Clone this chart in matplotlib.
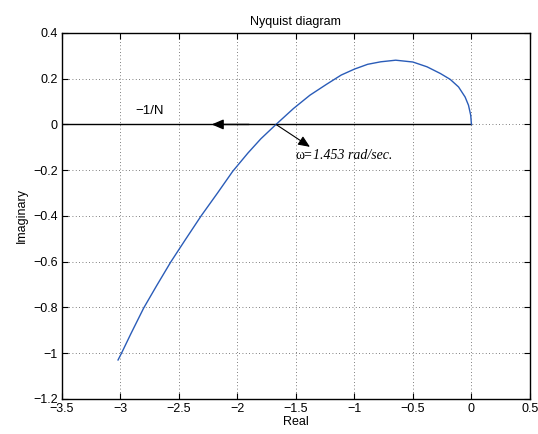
import matplotlib
matplotlib.use('Agg')
import matplotlib.pyplot as plt

plt.rcParams['font.family'] = ['Liberation Sans', 'DejaVu Sans']

# Nyquist curve G(jw)
re_g = [-3.02, -2.99, -2.91, -2.80, -2.69, -2.57, -2.45, -2.31, -2.17, -2.04,
        -1.91, -1.80, -1.67, -1.52, -1.38, -1.24, -1.113, -1.00, -0.887, -0.775,
        -0.647, -0.50, -0.379, -0.266, -0.181, -0.110, -0.054, -0.025, -0.006, 0.0]
im_g = [-1.03, -1.00, -0.915, -0.802, -0.705, -0.602, -0.508, -0.40, -0.30, -0.205,
        -0.125, -0.063, 0.0, 0.07, 0.128, 0.175, 0.216, 0.242, 0.263, 0.274,
        0.281, 0.273, 0.252, 0.223, 0.197, 0.164, 0.120, 0.084, 0.040, 0.0]

# -1/N locus (on the real axis)
re_n = [-3.5, 0.0]
im_n = [0.0, 0.0]

# intersection point
w_cross = 1.453
x_cross, y_cross = -1.67, 0.0

xticks = [-3.5, -3, -2.5, -2, -1.5, -1, -0.5, 0, 0.5]
yticks = [-1.2, -1, -0.8, -0.6, -0.4, -0.2, 0, 0.2, 0.4]

fig = plt.figure(figsize=(5.38, 4.34), dpi=100)
ax = fig.add_axes([0.115, 0.081, 0.870, 0.843])

ax.plot(re_n, im_n, color='black', lw=1.0)
ax.plot(re_g, im_g, color='#2a5cb8', lw=1.0)

# arrow on the -1/N line pointing left
ax.annotate('', xy=(-2.22, 0.0), xytext=(-1.9, 0.0),
            arrowprops=dict(arrowstyle='-|>,head_length=0.7,head_width=0.3',
                            color='black', lw=1.0, shrinkA=0, shrinkB=0))
# arrow from the crossing to the label
ax.annotate('', xy=(-1.38, -0.098), xytext=(x_cross, y_cross),
            arrowprops=dict(arrowstyle='-|>,head_length=0.7,head_width=0.3',
                            color='black', lw=0.8, shrinkA=0, shrinkB=0))

ax.text(-2.87, 0.057, '\u22121/N', fontsize=9.5, va='center')
t1 = ax.text(-1.5, -0.134, '\u03c9=', fontsize=10, va='center',
             family=['Liberation Serif', 'DejaVu Serif'])
ax.annotate('%.3f rad/sec.' % w_cross, xy=(1.0, 0.5), xycoords=t1,
            fontsize=10, va='center', ha='left', style='italic',
            family=['Liberation Serif', 'DejaVu Serif'])

ax.set_xlim(-3.5, 0.5)
ax.set_ylim(-1.2, 0.4)
ax.set_xticks(xticks)
ax.set_yticks(yticks)
ax.set_xticklabels([('%g' % t).replace('-', '\u2212') for t in xticks])
ax.set_yticklabels([('%g' % t).replace('-', '\u2212') for t in yticks])
ax.tick_params(direction='in', top=True, right=True, labelsize=9, length=4, pad=3)
ax.grid(True, linestyle=(0, (1, 3)), color='#555555', lw=0.6)
for s in ax.spines.values():
    s.set_linewidth(1.0)

ax.set_title('Nyquist diagram', fontsize=9, pad=6)
ax.set_xlabel('Real', fontsize=9, labelpad=1)
ax.set_ylabel('Imaginary', fontsize=9, labelpad=4)

fig.savefig('out.png', dpi=100)
